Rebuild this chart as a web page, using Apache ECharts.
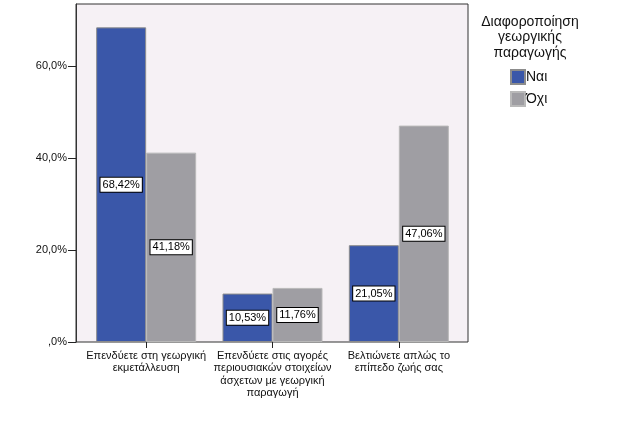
<!DOCTYPE html>
<html><head><meta charset="utf-8">
<script src="https://cdn.jsdelivr.net/npm/echarts@6/dist/echarts.min.js"></script>
<style>html,body{margin:0;padding:0;background:#fff}#c{width:626px;height:433px}</style>
</head><body><div id="c"></div>
<script>
const categories = [
  "Επενδύετε στη γεωργική\nεκμετάλλευση",
  "Επενδύετε στις αγορές\nπεριουσιακών στοιχείων\nάσχετων με γεωργική\nπαραγωγή",
  "Βελτιώνετε απλώς το\nεπίπεδο ζωής σας"
];
const seriesNames = ["Ναι", "Όχι"];
const naiValues = [68.42, 10.53, 21.05];
const oxiValues = [41.18, 11.76, 47.06];
const yTicks = [0, 20, 40, 60];
const legendTitle = "Διαφοροποίηση\nγεωργικής\nπαραγωγής";

const FONT = "'Liberation Sans', Arial, sans-serif";
const yLabel = v => v === 0 ? ",0%" : v.toFixed(1).replace(".", ",") + "%";
const barLabel = {
  show: true, position: "inside", color: "#000", fontFamily: FONT, fontSize: 11,
  backgroundColor: "#fff", borderColor: "#000", borderWidth: 1, padding: [2, 2, 1, 2],
  formatter: p => p.value.toFixed(2).replace(".", ",") + "%"
};
const chart = echarts.init(document.getElementById("c"), null, {renderer: "canvas"});
chart.setOption({
  animation: false,
  textStyle: {fontFamily: FONT},
  title: {
    text: legendTitle, left: 530, top: 14, padding: 0, textAlign: "center",
    textStyle: {fontFamily: FONT, fontSize: 14, fontWeight: "normal", color: "#111", lineHeight: 15.5, align: "center"}
  },
  legend: {
    data: seriesNames, orient: "vertical", left: 510, top: 69, padding: 0,
    icon: "rect", itemWidth: 14, itemHeight: 14, itemGap: 6,
    textStyle: {fontFamily: FONT, fontSize: 14, color: "#111", padding: [0, 0, 0, -4]}
  },
  grid: [
    {left: 76, top: 4, width: 392, height: 338, show: true, backgroundColor: "#f6f1f5", borderColor: "#333", borderWidth: 1},
    {left: 83, top: 4, width: 379, height: 338}
  ],
  xAxis: [
    {gridIndex: 0, type: "value", min: 0, max: 1, show: false},
    {gridIndex: 1, type: "category", data: categories,
     axisLine: {show: false},
     axisTick: {show: true, alignWithLabel: true, length: 6, lineStyle: {color: "#222"}},
     axisLabel: {color: "#111", fontFamily: FONT, fontSize: 11, lineHeight: 12.3, margin: 8, interval: 0}}
  ],
  yAxis: [
    {gridIndex: 0, type: "value", min: 0, max: 73.5,
     axisLine: {show: true, lineStyle: {color: "#333"}},
     axisTick: {show: true, length: 8, customValues: yTicks, lineStyle: {color: "#222"}},
     axisLabel: {customValues: yTicks, formatter: yLabel, color: "#111", fontFamily: FONT, fontSize: 11, margin: 9},
     splitLine: {show: false}},
    {gridIndex: 1, type: "value", min: 0, max: 73.5, show: false}
  ],
  series: [
    {name: seriesNames[0], type: "bar", xAxisIndex: 1, yAxisIndex: 1, data: naiValues,
     barWidth: 50, barGap: "0%",
     itemStyle: {color: "#3a57a9", borderColor: "#8c8c8c", borderWidth: 1}, label: barLabel},
    {name: seriesNames[1], type: "bar", xAxisIndex: 1, yAxisIndex: 1, data: oxiValues,
     barWidth: 50, barGap: "0%",
     itemStyle: {color: "#9f9ea3", borderColor: "#b9b9b9", borderWidth: 1}, label: barLabel}
  ]
});
</script></body></html>
